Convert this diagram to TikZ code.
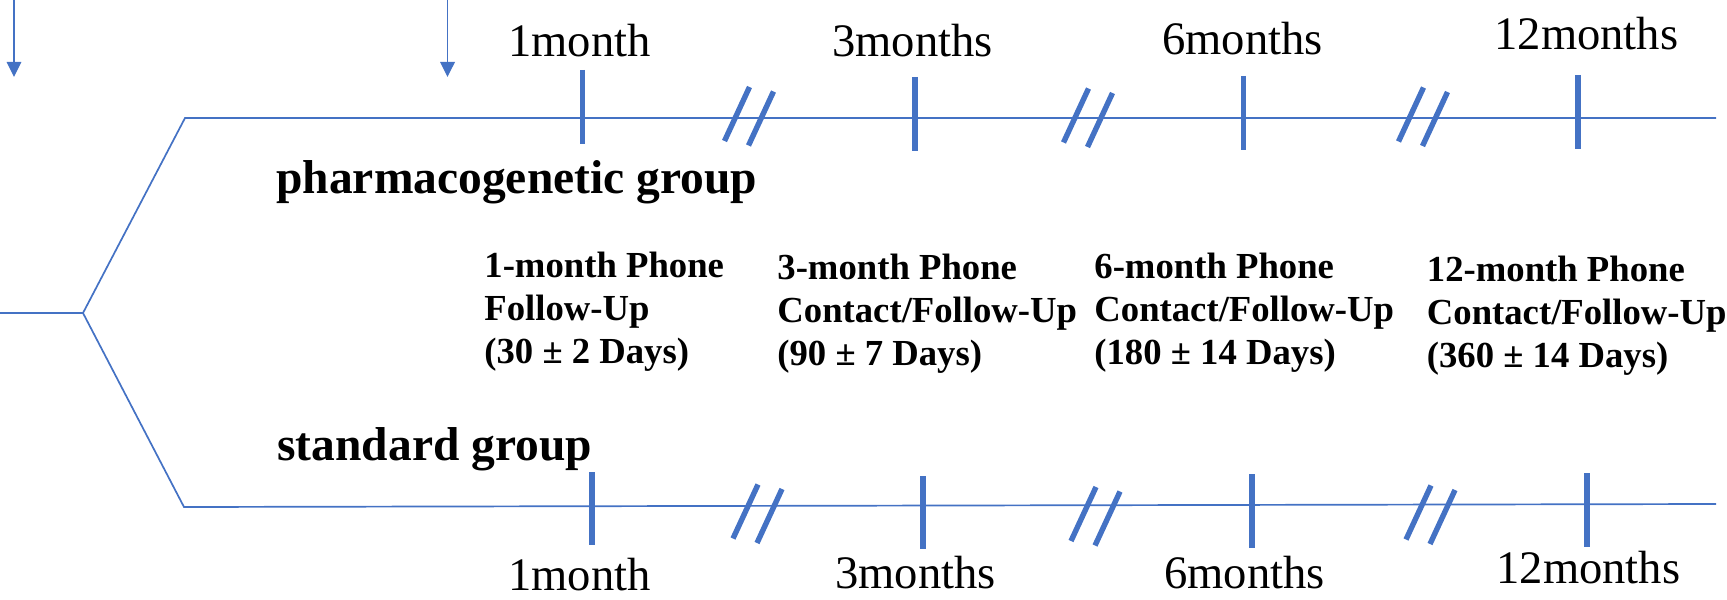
\documentclass[tikz,border=0pt]{standalone}
\usepackage{fontspec}
\setmainfont{Liberation Serif}
\usetikzlibrary{arrows.meta}
\definecolor{lineblue}{HTML}{4472C4}

\tikzset{
  thinline/.style={draw=lineblue, line width=0.85pt},
  arrowline/.style={draw=lineblue, line width=0.75pt, -{Triangle[width=7.3pt,length=7.5pt]}},
  tickmark/.style={draw=lineblue, line width=2.7pt},
  monthlabel/.style={anchor=base west, inner sep=0pt, font=\fontsize{23.3}{27}\selectfont},
  grouplabel/.style={anchor=base west, inner sep=0pt, font=\fontsize{23.75}{28}\selectfont\bfseries},
  visitlabel/.style={anchor=base west, inner sep=0pt, font=\fontsize{18.35}{21.5}\selectfont\bfseries},
  pics/gapmark/.style={code={
    \draw[tickmark] (0.5,-29.5) -- (-24.5,24.5);
    \draw[tickmark] (24.5,-25) -- (-0.5,29);
  }}
}

\begin{document}
\begin{tikzpicture}[x=0.5pt,y=-0.5pt]
\useasboundingbox (0,0) rectangle (1727,599);

% entry arrows
\coordinate (a1from) at (14,0);
\coordinate (a1to)   at (14,77);
\coordinate (a2from) at (447.5,0);
\coordinate (a2to)   at (447.5,77);
\draw[arrowline] (a1from) -- (a1to);
\draw[arrowline] (a2from) -- (a2to);

% randomisation branch
\coordinate (leftend)  at (0,313);
\coordinate (branch)   at (83,313);
\coordinate (topstart) at (185,118);
\coordinate (topend)   at (1716,118);
\coordinate (botstart) at (184,507);
\coordinate (botend)   at (1716,504);
\draw[thinline] (leftend) -- (branch);
\draw[thinline] (branch) -- (topstart) -- (topend);
\draw[thinline] (branch) -- (botstart) -- (botend);

% ticks on the upper timeline
\coordinate (t1a) at (582.5,70);  \coordinate (t1b) at (582.5,144);
\coordinate (t3a) at (915,77);    \coordinate (t3b) at (915,151);
\coordinate (t6a) at (1243.5,76); \coordinate (t6b) at (1243.5,150);
\coordinate (t12a) at (1578,75);  \coordinate (t12b) at (1578,149);
\draw[tickmark] (t1a) -- (t1b);
\draw[tickmark] (t3a) -- (t3b);
\draw[tickmark] (t6a) -- (t6b);
\draw[tickmark] (t12a) -- (t12b);

% ticks on the lower timeline
\coordinate (b1a) at (592,472);   \coordinate (b1b) at (592,545);
\coordinate (b3a) at (923,476);   \coordinate (b3b) at (923,549);
\coordinate (b6a) at (1252,474);  \coordinate (b6b) at (1252,548);
\coordinate (b12a) at (1587,473); \coordinate (b12b) at (1587,547);
\draw[tickmark] (b1a) -- (b1b);
\draw[tickmark] (b3a) -- (b3b);
\draw[tickmark] (b6a) -- (b6b);
\draw[tickmark] (b12a) -- (b12b);

% time breaks
\pic at (749,116.5) {gapmark};
\pic at (1088,118) {gapmark};
\pic at (1423,117) {gapmark};
\pic at (757.5,514) {gapmark};
\pic at (1095.5,516.5) {gapmark};
\pic at (1430.5,515) {gapmark};

% month labels
\node[monthlabel] (m1top)  at (508,57)  {1month};
\node[monthlabel] (m3top)  at (832,57)  {3months};
\node[monthlabel] (m6top)  at (1162,55) {6months};
\node[monthlabel] (m12top) at (1494,50) {12months};
\node[monthlabel] (m1bot)  at (508,590) {1month};
\node[monthlabel] (m3bot)  at (835,588) {3months};
\node[monthlabel] (m6bot)  at (1164,588) {6months};
\node[monthlabel] (m12bot) at (1496,583) {12months};

% group labels
\node[grouplabel] (pgx) at (276,193) {pharmacogenetic group};
\node[grouplabel] (std) at (277,460) {standard group};

% follow-up visits
\node[visitlabel] (v1) at (484,277)
  {\begin{tabular}[t]{@{}l@{}}1-month Phone\\Follow-Up\\(30 ± 2 Days)\end{tabular}};
\node[visitlabel] (v3) at (777,279)
  {\begin{tabular}[t]{@{}l@{}}3-month Phone\\Contact/Follow-Up\\(90 ± 7 Days)\end{tabular}};
\node[visitlabel] (v6) at (1094,278)
  {\begin{tabular}[t]{@{}l@{}}6-month Phone\\Contact/Follow-Up\\(180 ± 14 Days)\end{tabular}};
\node[visitlabel] (v12) at (1426.5,281)
  {\begin{tabular}[t]{@{}l@{}}12-month Phone\\Contact/Follow-Up\\(360 ± 14 Days)\end{tabular}};
\end{tikzpicture}
\end{document}
